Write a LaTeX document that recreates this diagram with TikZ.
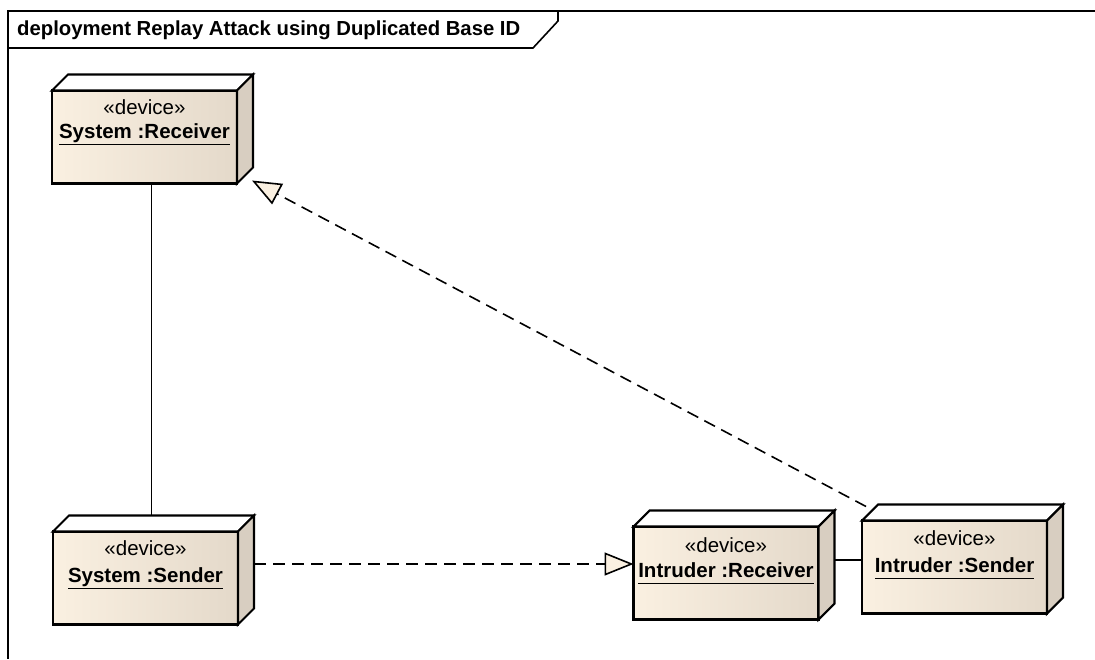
\documentclass[tikz,border=0pt]{standalone}
\usepackage{fontspec}
\setmainfont{Liberation Sans}
\usetikzlibrary{arrows.meta,calc}

\definecolor{frontL}{HTML}{FAF0E1}
\definecolor{frontM}{HTML}{F5EBDB}
\definecolor{frontR}{HTML}{E4D9CA}
\definecolor{sideface}{HTML}{D8CEC1}
\definecolor{headfill}{HTML}{FAF0E1}

% bold, underlined instance name
\newcommand\instname[1]{\setbox0\hbox{\bfseries #1}\rlap{\copy0}\raisebox{-6.8pt}{\rule{\wd0}{1.5pt}}}

\tikzset{
  frameline/.style={line width=1.6pt, black},
  device/.style={draw, line width=2.1pt, outer sep=0pt, inner sep=0pt,
    minimum width=185pt, minimum height=93pt,
    left color=frontL, middle color=frontM, right color=frontR},
  topface/.style={draw, line width=2.1pt, fill=white, line join=miter},
  sideface/.style={draw, line width=2.1pt, fill=sideface, line join=miter},
  stereo/.style={anchor=base, inner sep=0pt, font=\fontsize{20.5}{23}\selectfont},
  nametext/.style={anchor=base, inner sep=0pt, font=\fontsize{20.5}{23}\selectfont},
  link/.style={line width=1.6pt},
  dep/.style={line width=1.6pt, dash pattern=on 12pt off 7pt,
    -{Triangle[length=29pt,width=23pt,fill=headfill]}},
}

\begin{document}
\begin{tikzpicture}[x=1pt,y=-1pt]
\useasboundingbox (0,0) rectangle (1095,659);
\fill[white] (0,0) rectangle (1095,659);

% diagram frame with its name tab
\draw[frameline] (1095,11) -- (8,11) -- (8,659);
\draw[frameline] (8,48) -- (533,48) -- (558,21) -- (558,11);
\node[anchor=west, inner sep=0pt, font=\bfseries\fontsize{20.3}{23}\selectfont] (title) at (17,30)
  {deployment Replay Attack using Duplicated Base ID};

% device nodes (front faces)
\node[device] (sr) at (144.5,137) {};
\node[device] (ss) at (145.5,578) {};
\node[device] (ir) at (726,573) {};
\node[device] (is) at (954.5,567) {};

% depth faces of each node
\foreach \n in {sr,ss,ir,is} {
  \draw[topface] (\n.north west) -- ++(16,-16)
    -- ([shift={(16,-16)}]\n.north east) -- (\n.north east) -- cycle;
  \draw[sideface] (\n.north east) -- ++(16,-16)
    -- ([shift={(16,-16)}]\n.south east) -- (\n.south east) -- cycle;
}

% stereotypes and instance names
\node[stereo] (sr-st) at ([yshift=-24pt]sr.north) {«device»};
\node[nametext] (sr-nm) at ([yshift=-48pt]sr.north) {\instname{System :Receiver}};
\node[stereo] (ss-st) at ([yshift=-24pt]ss.north) {«device»};
\node[nametext] (ss-nm) at ([yshift=-51pt]ss.north) {\instname{System :Sender}};
\node[stereo] (ir-st) at ([yshift=-26pt]ir.north) {«device»};
\node[nametext] (ir-nm) at ([yshift=-51pt]ir.north) {\instname{Intruder :Receiver}};
\node[stereo] (is-st) at ([yshift=-25pt]is.north) {«device»};
\node[nametext] (is-nm) at ([yshift=-52pt]is.north) {\instname{Intruder :Sender}};

% connector end points
\coordinate (ss-top) at ([yshift=16pt]ss.north);
\coordinate (ss-side) at ([xshift=16pt]ss.east);
\coordinate (ir-in) at ([yshift=9pt]ir.west);
\coordinate (ir-side) at ([xshift=16pt]ir.east);
\coordinate (is-in) at ([yshift=7pt]is.west);

% communication paths
\draw[link] ([xshift=7pt]sr.south) -- ([xshift=7pt]sr.south |- ss-top);
\draw[link] (is-in -| ir-side) -- (is-in);

% dependencies
\draw[dep] (ir-in -| ss-side) -- (ir-in);
\draw[dep] ([shift={(4,-14)}]is.north west) -- ([shift={(15,-3)}]sr.south east);
\end{tikzpicture}
\end{document}
